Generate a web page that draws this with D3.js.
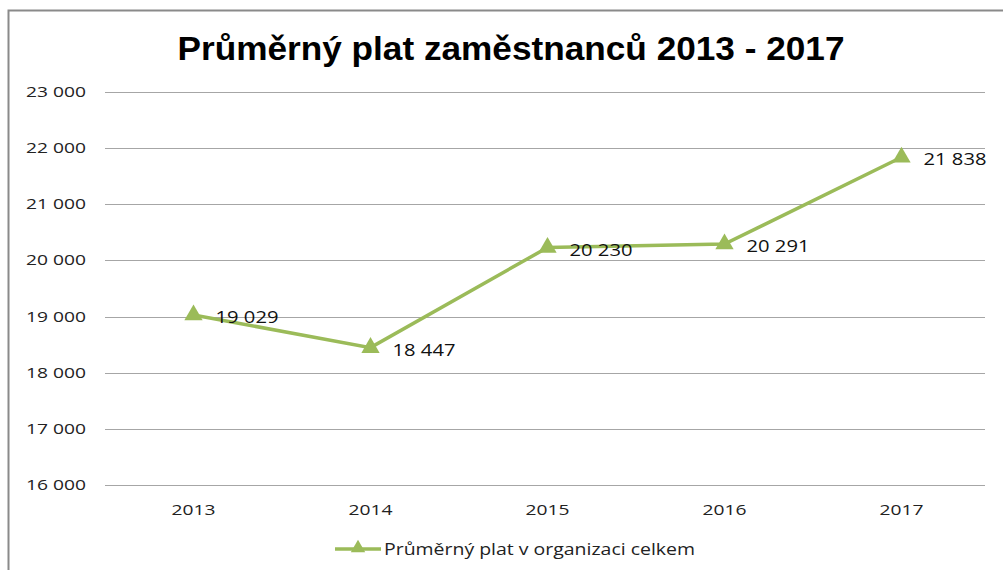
<!DOCTYPE html>
<html>
<head>
<meta charset="utf-8">
<script src="https://cdn.jsdelivr.net/npm/d3@7"></script>
<style>
  body { margin: 0; background: #fff; }
  svg text { font-family: "Open Sans", sans-serif; }
  svg text.title { font-family: "Liberation Sans Narrow", "Liberation Sans", Arial, sans-serif; }
</style>
</head>
<body>
<svg id="chart" width="1003" height="570"></svg>
<script>
// data
var years = ["2013", "2014", "2015", "2016", "2017"];
var salaries = [19029, 18447, 20230, 20291, 21838];
var yTicks = [16000, 17000, 18000, 19000, 20000, 21000, 22000, 23000];
var seriesName = "Průměrný plat v organizaci celkem";
var title = "Průměrný plat zaměstnanců 2013 - 2017";

var svg = d3.select("#chart");
var green = "#9bbb59";

// frame
svg.append("rect")
  .attr("x", 8.5).attr("y", 10.5)
  .attr("width", 1010).attr("height", 600)
  .attr("fill", "none")
  .attr("stroke", "#8a8a8a")
  .attr("stroke-width", 2);

var x = d3.scaleBand().domain(years).range([105, 990]);
var y = d3.scaleLinear().domain([16000, 23000]).range([485, 92]);

var fmt = function (v) { return d3.format(",")(v).replace(/,/g, " "); };

// gridlines
svg.append("g").selectAll("line")
  .data(yTicks)
  .enter().append("line")
  .attr("x1", 105).attr("x2", 985)
  .attr("y1", function (d) { return Math.round(y(d)) + 0.5; })
  .attr("y2", function (d) { return Math.round(y(d)) + 0.5; })
  .attr("stroke", "#a6a6a6")
  .attr("stroke-width", 1);

// y labels
svg.append("g").selectAll("text")
  .data(yTicks)
  .enter().append("text")
  .attr("x", 86)
  .attr("y", function (d) { return y(d) + 5; })
  .attr("text-anchor", "end")
  .attr("font-size", 15)
  .attr("textLength", 60)
  .attr("lengthAdjust", "spacingAndGlyphs")
  .attr("fill", "#222")
  .text(fmt);

// x labels
svg.append("g").selectAll("text")
  .data(years)
  .enter().append("text")
  .attr("x", function (d) { return x(d) + x.bandwidth() / 2; })
  .attr("y", 515)
  .attr("text-anchor", "middle")
  .attr("font-size", 15)
  .attr("textLength", 44)
  .attr("lengthAdjust", "spacingAndGlyphs")
  .attr("fill", "#222")
  .text(function (d) { return d; });

// title
svg.append("text")
  .attr("class", "title")
  .attr("x", 511).attr("y", 60)
  .attr("text-anchor", "middle")
  .attr("font-size", 33)
  .attr("font-weight", "bold")
  .attr("textLength", 667)
  .attr("lengthAdjust", "spacingAndGlyphs")
  .attr("fill", "#000")
  .text(title);

var cx = function (d, i) { return x(years[i]) + x.bandwidth() / 2; };

// line
var line = d3.line()
  .x(function (d, i) { return cx(d, i); })
  .y(function (d) { return y(d); });

svg.append("path")
  .datum(salaries)
  .attr("d", line)
  .attr("fill", "none")
  .attr("stroke", green)
  .attr("stroke-width", 3.5);

var tri = d3.symbol().type(d3.symbolTriangle).size(145);

svg.append("g").selectAll("path")
  .data(salaries)
  .enter().append("path")
  .attr("d", tri)
  .attr("transform", function (d, i) { return "translate(" + cx(d, i) + "," + y(d) + ")"; })
  .attr("fill", green);

// data labels
svg.append("g").selectAll("text")
  .data(salaries)
  .enter().append("text")
  .attr("x", function (d, i) { return cx(d, i) + 22; })
  .attr("y", function (d) { return y(d) + 8; })
  .attr("font-size", 17)
  .attr("textLength", 63)
  .attr("lengthAdjust", "spacingAndGlyphs")
  .attr("fill", "#111")
  .text(fmt);

// legend
var lg = svg.append("g");
lg.append("line")
  .attr("x1", 335).attr("x2", 381)
  .attr("y1", 549).attr("y2", 549)
  .attr("stroke", green).attr("stroke-width", 3.5);
lg.append("path")
  .attr("d", d3.symbol().type(d3.symbolTriangle).size(90))
  .attr("transform", "translate(358,548)")
  .attr("fill", green);
lg.append("text")
  .attr("x", 384).attr("y", 555)
  .attr("font-size", 16)
  .attr("textLength", 311)
  .attr("lengthAdjust", "spacingAndGlyphs")
  .attr("fill", "#222")
  .text(seriesName);
</script>
</body>
</html>
